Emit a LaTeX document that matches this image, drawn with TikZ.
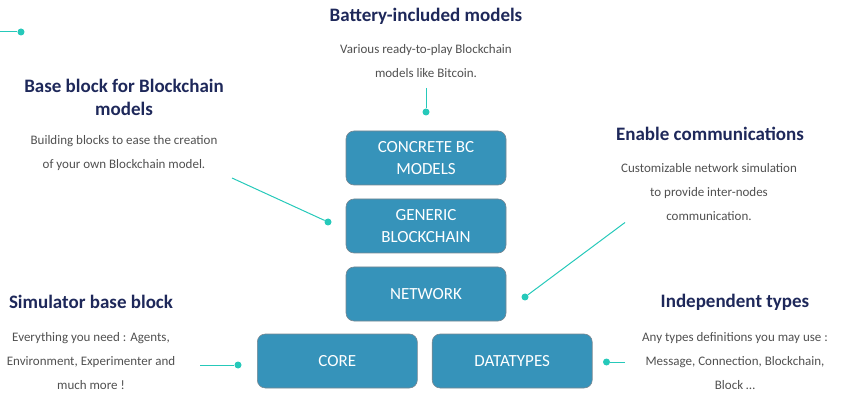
\documentclass[tikz,border=0pt]{standalone}
\usepackage{fontspec}
\setmainfont{Carlito}
\definecolor{boxfill}{RGB}{54,147,186}
\definecolor{boxline}{RGB}{120,135,145}
\definecolor{teal}{RGB}{38,201,186}
\definecolor{navy}{RGB}{30,40,90}
\definecolor{desc}{RGB}{80,80,80}
\tikzset{
  blk/.style={draw=boxline, line width=0.6pt, fill=boxfill, rounded corners=8pt, minimum width=160pt, minimum height=54pt, text=white, align=center, font=\fontsize{17}{21.5}\selectfont, inner sep=0pt},
  head/.style={text=navy, font=\bfseries\fontsize{19}{23}\selectfont, align=center, inner sep=0pt},
  dsc/.style={text=desc, font=\fontsize{13}{24}\selectfont, align=center, inner sep=0pt},
  dot/.style={circle, fill=teal, minimum size=7pt, inner sep=0pt},
  conn/.style={draw=teal, line width=1pt}
}
\begin{document}
\begin{tikzpicture}[x=1pt,y=-1pt]
\useasboundingbox (0,0) rectangle (845,411);
% blocks
\node[blk] (concrete) at (426,158) {CONCRETE BC\\MODELS};
\node[blk] (generic) at (426,226) {GENERIC\\BLOCKCHAIN};
\node[blk] (network) at (426,294) {NETWORK};
\node[blk] (core) at (337.3,361) {CORE};
\node[blk] (datatypes) at (512.2,361) {DATATYPES};
% texts
\node[head] (h1) at (426,16) {Battery-included models};
\node[dsc] (d1) at (426,61.5) {Various ready-to-play Blockchain\\models like Bitcoin.};
\node[head] (h2) at (124,97.5) {Base block for Blockchain\\models};
\node[dsc] (d2) at (124,153) {Building blocks to ease the creation\\of your own Blockchain model.};
\node[head] (h3) at (710,134) {Enable communications};
\node[dsc] (d3) at (709,192) {Customizable network simulation\\to provide inter-nodes\\communication.};
\node[head] (h4) at (91,302) {Simulator base block};
\node[dsc] (d4) at (91,361) {Everything you need : Agents,\\Environment, Experimenter and\\much more !};
\node[head] (h5) at (735,302) {Independent types};
\node[dsc] (d5) at (735,361) {Any types definitions you may use :\\Message, Connection, Blockchain,\\Block \dots};
% connectors
\node[dot] (p0) at (21,32) {};
\coordinate (s0) at (0,32);
\draw[conn] (s0) -- (p0);
\node[dot] (p1) at (426,112) {};
\coordinate (s1) at (426,88);
\draw[conn] (s1) -- (p1);
\node[dot] (p2) at (328,222) {};
\coordinate (s2) at (232,178);
\draw[conn] (s2) -- (p2);
\node[dot] (p3) at (525,297) {};
\coordinate (s3) at (625,222.5);
\draw[conn] (s3) -- (p3);
\node[dot] (p4) at (238,365) {};
\coordinate (s4) at (200,365);
\draw[conn] (s4) -- (p4);
\node[dot] (p5) at (606.5,362) {};
\coordinate (s5) at (625,362);
\draw[conn] (s5) -- (p5);
\end{tikzpicture}
\end{document}
